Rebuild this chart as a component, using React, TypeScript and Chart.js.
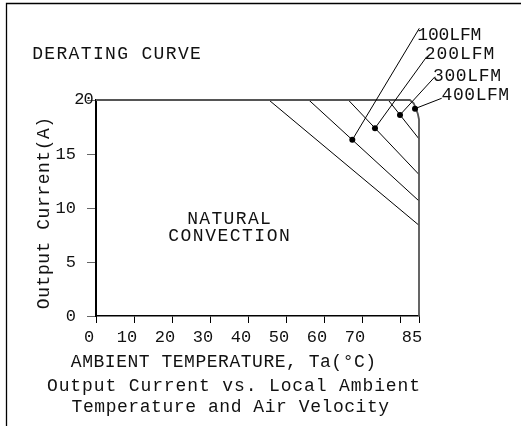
import React, { useEffect, useRef } from 'react';
import { Chart, registerables } from 'chart.js';

Chart.register(...registerables);

// ---- data ----
const xTicks = [0, 10, 20, 30, 40, 50, 60, 70, 80, 85];
const xTickLabels = ['0', '10', '20', '30', '40', '50', '60', '70', '', '85'];
const yTicks = [0, 5, 10, 15, 20];
const yTickLabels = ['0', '5', '10', '15', ''];
const yTopLabel = '20';

const naturalX = [0, 45.5, 85];
const naturalY = [20, 20, 8.4];
const lfm100X = [0, 56, 85];
const lfm100Y = [20, 20, 10.65];
const lfm200X = [0, 66.4, 85];
const lfm200Y = [20, 20, 13.1];
const lfm300X = [0, 76.9, 85];
const lfm300Y = [20, 20, 16.4];
const lfm400X = [0, 82.6, 83.6, 84.2, 84.7, 85, 85];
const lfm400Y = [20, 20, 19.7, 19.2, 18.7, 18.2, 0];

const airflowNames = ['100LFM', '200LFM', '300LFM', '400LFM'];
const dotX = [67.45, 73.42, 80.0, 83.95];
const dotY = [16.31, 17.39, 18.62, 19.2];
const leaderEndX = [85.08, 87.03, 89.21, 90.97];
const leaderEndY = [26.64, 24.01, 22.16, 20.16];

const titleText = 'DERATING CURVE';
const naturalText = ['NATURAL', 'CONVECTION'];
const xTitle = 'AMBIENT TEMPERATURE, Ta(°C)';
const yTitle = 'Output Current(A)';
const captionLines = ['Output Current vs. Local Ambient', 'Temperature and Air Velocity'];

const FONT = '"Liberation Mono", "DejaVu Sans Mono", monospace';

const pts = (xs: number[], ys: number[]) => xs.map((x, i) => ({ x, y: ys[i] }));

function drawSpaced(
  ctx: CanvasRenderingContext2D,
  text: string,
  left: number,
  right: number,
  cy: number,
  size: number
) {
  const n = text.length;
  const adv = (right - left) / (n - 1 + 0.75);
  ctx.font = `${size}px ${FONT}`;
  ctx.textAlign = 'center';
  ctx.textBaseline = 'alphabetic';
  const base = cy + size * 0.34;
  for (let i = 0; i < n; i++) {
    ctx.fillText(text[i], left + adv * 0.375 + adv * i, base);
  }
}

const annotationPlugin = {
  id: 'annotations',
  afterDraw(chart: any) {
    const ctx: CanvasRenderingContext2D = chart.ctx;
    ctx.save();
    // frame
    ctx.strokeStyle = '#000';
    ctx.lineWidth = 1.3;
    ctx.beginPath();
    ctx.moveTo(521, 3.5);
    ctx.lineTo(6.5, 3.5);
    ctx.lineTo(6.5, 426);
    ctx.stroke();

    ctx.fillStyle = '#111';
    drawSpaced(ctx, titleText, 33, 200, 52.5, 18);
    drawSpaced(ctx, naturalText[0], 188, 270, 217.5, 18);
    drawSpaced(ctx, naturalText[1], 169, 289, 235, 18);
    drawSpaced(ctx, xTitle, 72, 375, 361, 18);
    drawSpaced(ctx, captionLines[0], 48, 419, 385, 18);
    drawSpaced(ctx, captionLines[1], 72.7, 388, 406, 18);

    // airflow labels
    const lab = [
      [418.7, 480, 34],
      [425.7, 493.3, 53.3],
      [434, 500, 75],
      [442.7, 508, 94],
    ];
    airflowNames.forEach((t, i) => drawSpaced(ctx, t, lab[i][0], lab[i][1], lab[i][2], 18));

    // top y label
    const y20 = chart.scales.y.getPixelForValue(20);
    drawSpaced(ctx, yTopLabel, 76, 92, y20 - 2, 17);

    // y title
    ctx.translate(43, 308);
    ctx.rotate(-Math.PI / 2);
    drawSpaced(ctx, yTitle, 0, 190, 0, 18);
    ctx.restore();
  },
};

export default function App() {
  const ref = useRef<HTMLCanvasElement | null>(null);

  useEffect(() => {
    document.body.style.margin = '0';
    const canvas = ref.current;
    if (!canvas) return;

    const curve = (xs: number[], ys: number[], color: string, width: number) => ({
      data: pts(xs, ys),
      showLine: true,
      borderColor: color,
      borderWidth: width,
      pointRadius: 0,
      fill: false,
      clip: false as any,
    });

    const datasets: any[] = [];
    datasets.push({
      data: pts(dotX, dotY),
      pointRadius: 3,
      pointBackgroundColor: '#000',
      pointBorderWidth: 0,
      showLine: false,
      clip: false,
    });
    dotX.forEach((_, i) => {
      datasets.push(curve([dotX[i], leaderEndX[i]], [dotY[i], leaderEndY[i]], '#000', 1));
    });
    datasets.push(curve(lfm400X, lfm400Y, '#555', 1.8));
    datasets.push(curve(lfm300X, lfm300Y, '#000', 1));
    datasets.push(curve(lfm200X, lfm200Y, '#000', 1));
    datasets.push(curve(lfm100X, lfm100Y, '#000', 1));
    datasets.push(curve(naturalX, naturalY, '#000', 1));

    const chart = new Chart(canvas, {
      type: 'scatter',
      data: { datasets },
      options: {
        animation: false,
        responsive: false,
        devicePixelRatio: 1,
        layout: { padding: { left: 0, top: 100, right: 102, bottom: 0 } },
        plugins: { legend: { display: false }, tooltip: { enabled: false } },
        scales: {
          x: {
            type: 'linear',
            min: 0,
            max: 85,
            afterBuildTicks: (s: any) => {
              s.ticks = xTicks.map((v) => ({ value: v }));
            },
            afterFit: (s: any) => {
              s.height = 118;
            },
            ticks: {
              autoSkip: false,
              maxRotation: 0,
              padding: 4,
              labelOffset: -7,
              color: '#111',
              font: { family: FONT, size: 17 },
              callback: (_v: any, i: number) => xTickLabels[i] ?? '',
            },
            grid: { drawOnChartArea: false, drawTicks: true, tickLength: 7, color: '#000', lineWidth: 1 },
            border: { display: true, color: '#000', width: 1.5 },
          },
          y: {
            type: 'linear',
            min: 0,
            max: 20,
            afterBuildTicks: (s: any) => {
              s.ticks = yTicks.map((v) => ({ value: v }));
            },
            afterFit: (s: any) => {
              s.width = 96;
            },
            ticks: {
              autoSkip: false,
              padding: 11,
              color: '#111',
              font: { family: FONT, size: 17 },
              callback: (_v: any, i: number) => yTickLabels[i] ?? '',
            },
            grid: { drawOnChartArea: false, drawTicks: true, tickLength: 9, color: '#666', lineWidth: 1 },
            border: { display: true, color: '#000', width: 2 },
          },
        },
      },
      plugins: [annotationPlugin],
    });

    return () => chart.destroy();
  }, []);

  return (
    <div style={{ width: 521, height: 434, background: '#fff' }}>
      <canvas ref={ref} width={521} height={434} style={{ display: 'block' }} />
    </div>
  );
}
